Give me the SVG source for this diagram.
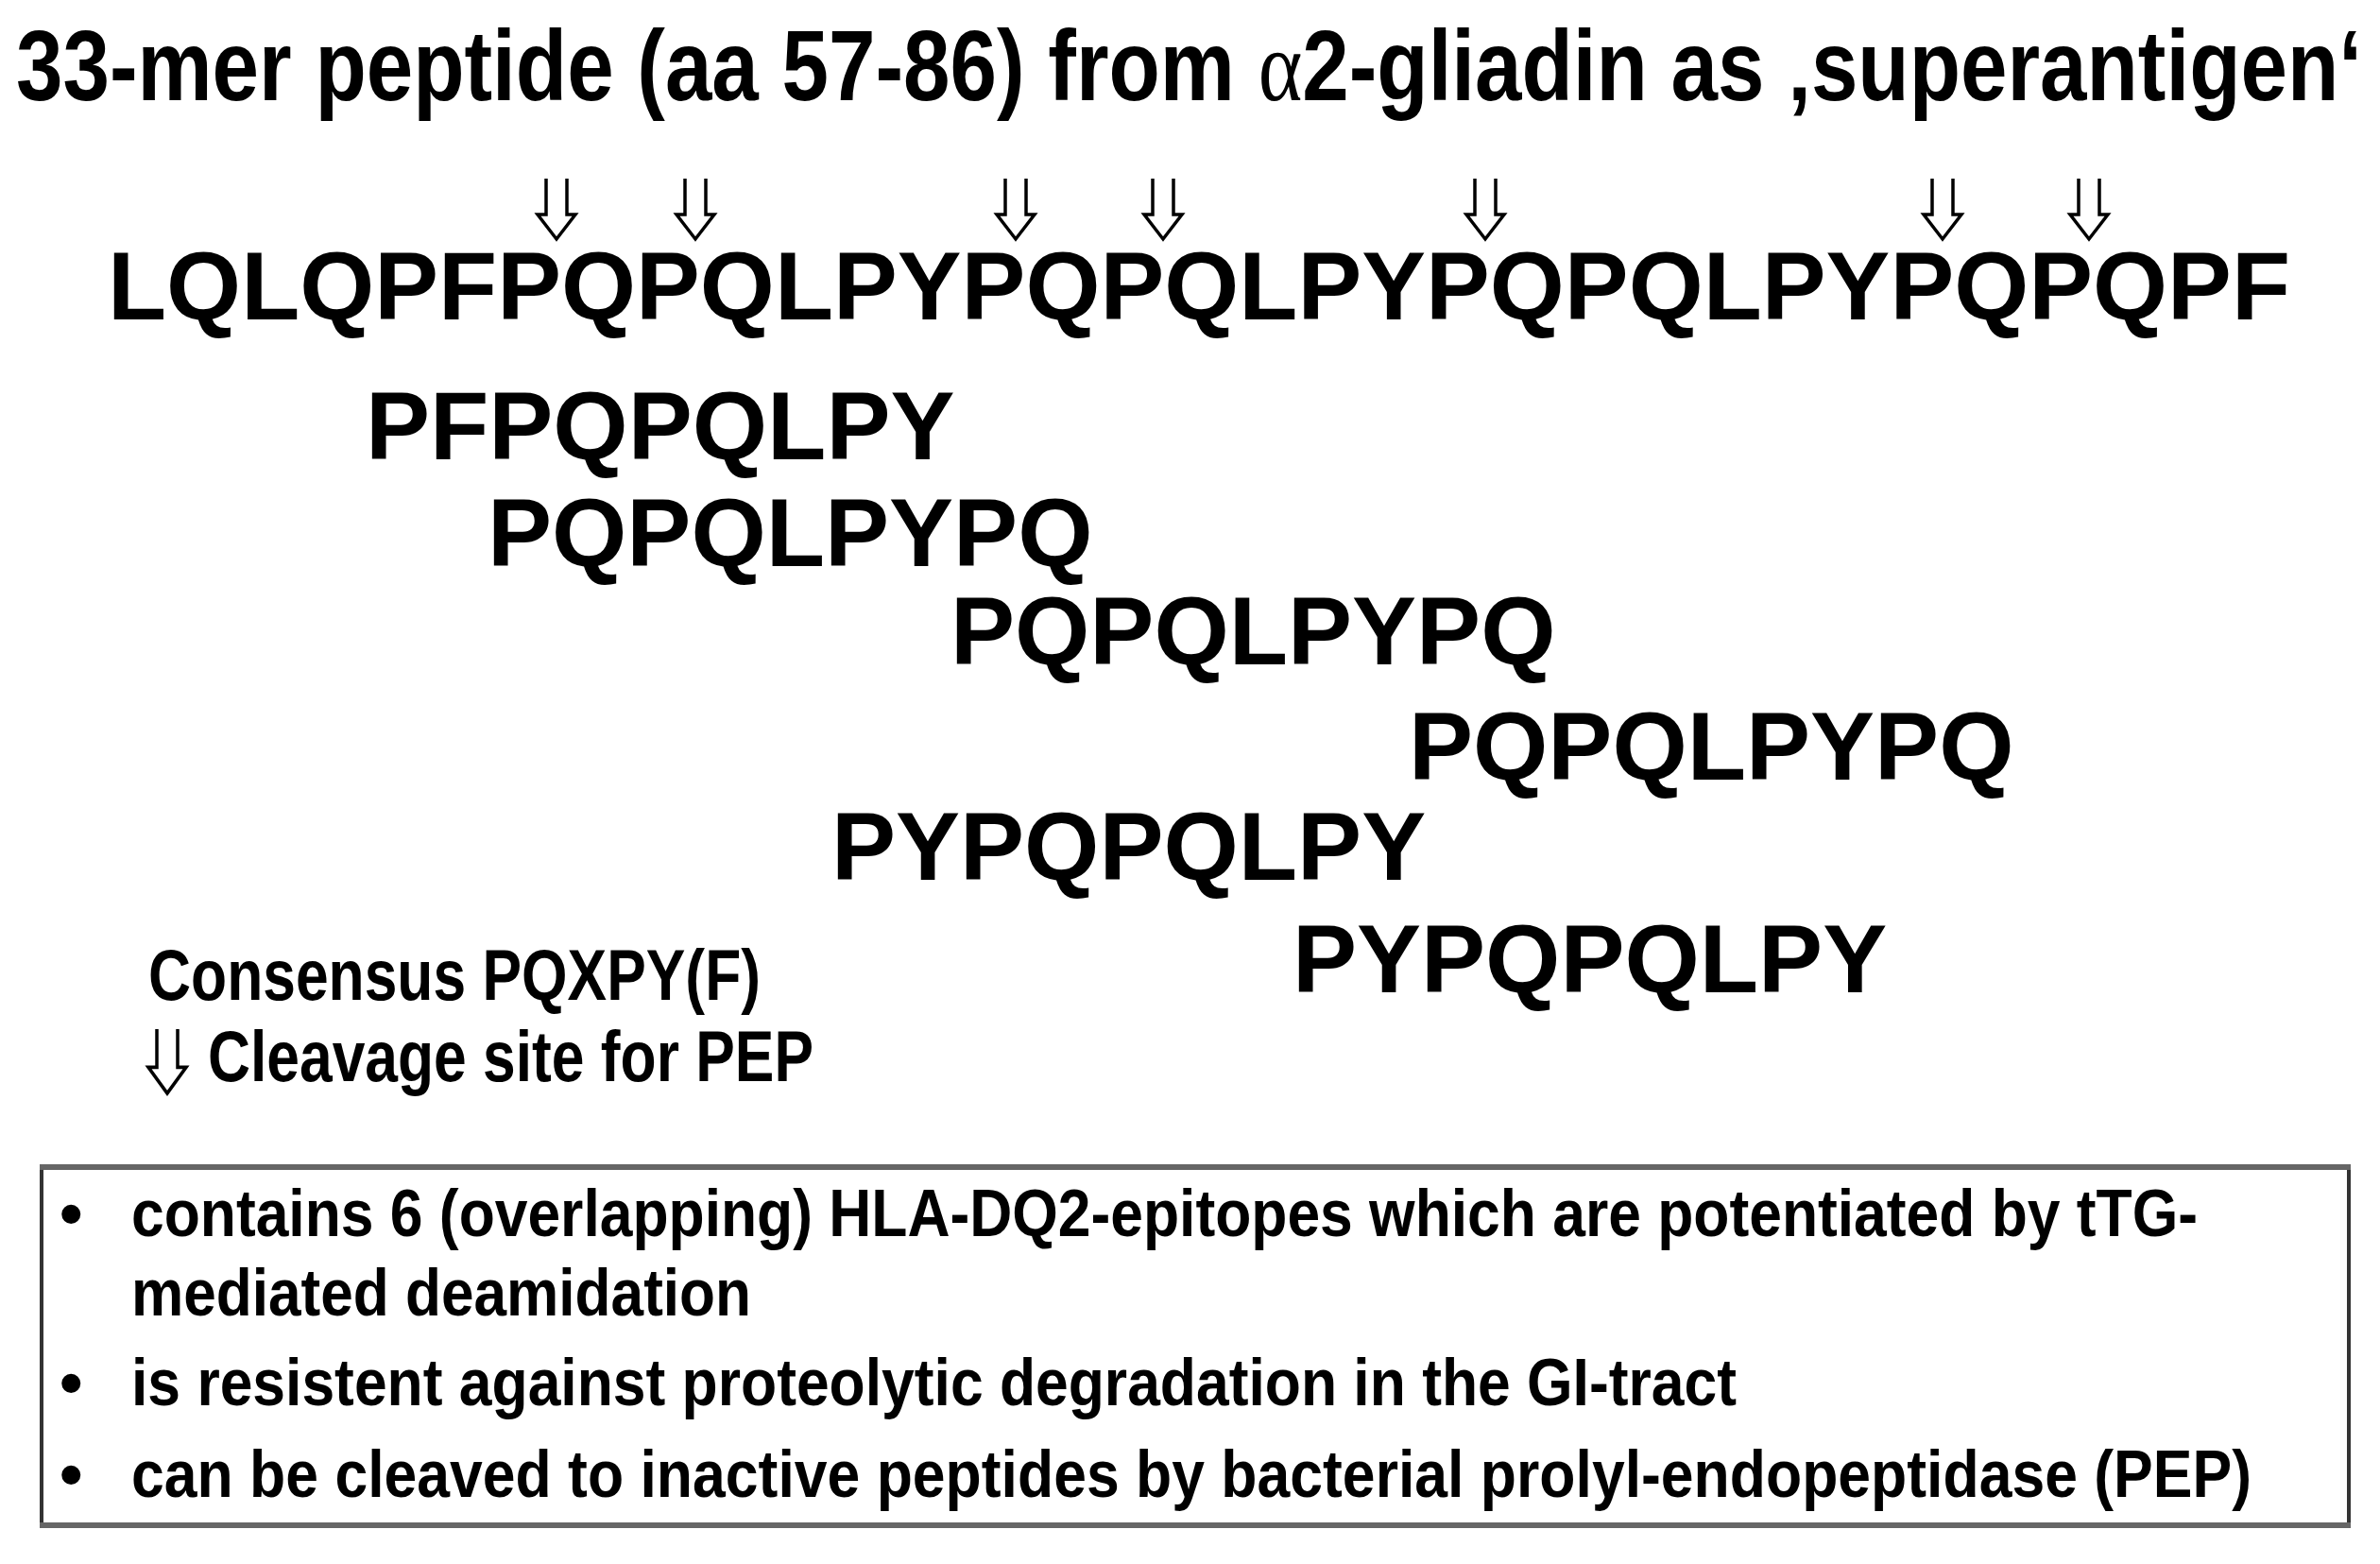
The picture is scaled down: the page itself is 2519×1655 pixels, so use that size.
<svg xmlns="http://www.w3.org/2000/svg" xmlns:xlink="http://www.w3.org/1999/xlink" width="2519" height="1655" viewBox="0 0 2519 1655">
  <style>
    .ttl { font-family: "Liberation Sans", Arial, sans-serif; font-weight: bold; font-size: 106px; fill: #000; }
    .greek { font-family: "Liberation Serif", "Times New Roman", serif; font-weight: normal; }
    .seq { font-family: "Liberation Sans", Arial, sans-serif; font-weight: bold; font-size: 102px; fill: #000; }
    .leg { font-family: "Liberation Sans", Arial, sans-serif; font-weight: bold; font-size: 76px; fill: #000; }
    .bul { font-family: "Liberation Sans", Arial, sans-serif; font-weight: bold; font-size: 70px; fill: #000; }
    .arr { fill: none; stroke: #000; stroke-width: 3.5; stroke-linejoin: miter; }
  </style>
  <defs>
    <path id="pep" class="arr" d="M -11,0 V 38 L -20,38 L 0,64 L 20,38 L 11,38 V 0"/>
  </defs>
  <rect x="0" y="0" width="2519" height="1655" fill="#fff"/>

  <g id="title">
    <text class="ttl" x="17" y="106" textLength="2483" lengthAdjust="spacingAndGlyphs">33-mer peptide (aa 57-86) from <tspan class="greek">α</tspan>2-gliadin as ‚superantigen‘</text>
  </g>

  <g id="sequence">
    <text class="seq" x="114" y="338" textLength="2310" lengthAdjust="spacingAndGlyphs">LQLQPFPQPQLPYPQPQLPYPQPQLPYPQPQPF</text>
  </g>

  <g id="cleavage-arrows">
    <use xlink:href="#pep" href="#pep" transform="translate(589,189)"/>
    <use xlink:href="#pep" href="#pep" transform="translate(736,189)"/>
    <use xlink:href="#pep" href="#pep" transform="translate(1075,189)"/>
    <use xlink:href="#pep" href="#pep" transform="translate(1231,189)"/>
    <use xlink:href="#pep" href="#pep" transform="translate(1572,189)"/>
    <use xlink:href="#pep" href="#pep" transform="translate(2056,189)"/>
    <use xlink:href="#pep" href="#pep" transform="translate(2211,189)"/>
  </g>

  <g id="epitope1"><text class="seq" x="387" y="486">PFPQPQLPY</text></g>
  <g id="epitope2"><text class="seq" x="516" y="599">PQPQLPYPQ</text></g>
  <g id="epitope3"><text class="seq" x="1006" y="703">PQPQLPYPQ</text></g>
  <g id="epitope4"><text class="seq" x="1491" y="825">PQPQLPYPQ</text></g>
  <g id="epitope5"><text class="seq" x="880" y="931">PYPQPQLPY</text></g>
  <g id="epitope6"><text class="seq" x="1368" y="1050">PYPQPQLPY</text></g>

  <g id="legend">
    <text class="leg" x="157" y="1058" textLength="648" lengthAdjust="spacingAndGlyphs">Consensus PQXPY(F)</text>
    <use xlink:href="#pep" href="#pep" transform="translate(177,1089) scale(1,1.06)"/>
    <text class="leg" x="220" y="1144" textLength="641" lengthAdjust="spacingAndGlyphs">Cleavage site for PEP</text>
  </g>

  <g id="notes">
    <rect x="44" y="1234" width="2442" height="381" fill="#fff" stroke="#333" stroke-width="4"/>
    <line x1="42" y1="1235" x2="2488" y2="1235" stroke="#666" stroke-width="6"/>
    <line x1="42" y1="1614" x2="2488" y2="1614" stroke="#666" stroke-width="6"/>
    <text class="bul" x="63" y="1308">•</text>
    <text class="bul" x="139" y="1308" textLength="2187" lengthAdjust="spacingAndGlyphs">contains 6 (overlapping) HLA-DQ2-epitopes which are potentiated by tTG-</text>
    <text class="bul" x="139" y="1392" textLength="656" lengthAdjust="spacingAndGlyphs">mediated deamidation</text>
    <text class="bul" x="63" y="1487">•</text>
    <text class="bul" x="139" y="1487" textLength="1699" lengthAdjust="spacingAndGlyphs">is resistent against proteolytic degradation in the GI-tract</text>
    <text class="bul" x="63" y="1584">•</text>
    <text class="bul" x="139" y="1584" textLength="2244" lengthAdjust="spacingAndGlyphs">can be cleaved to inactive peptides by bacterial prolyl-endopeptidase (PEP)</text>
  </g>
</svg>
